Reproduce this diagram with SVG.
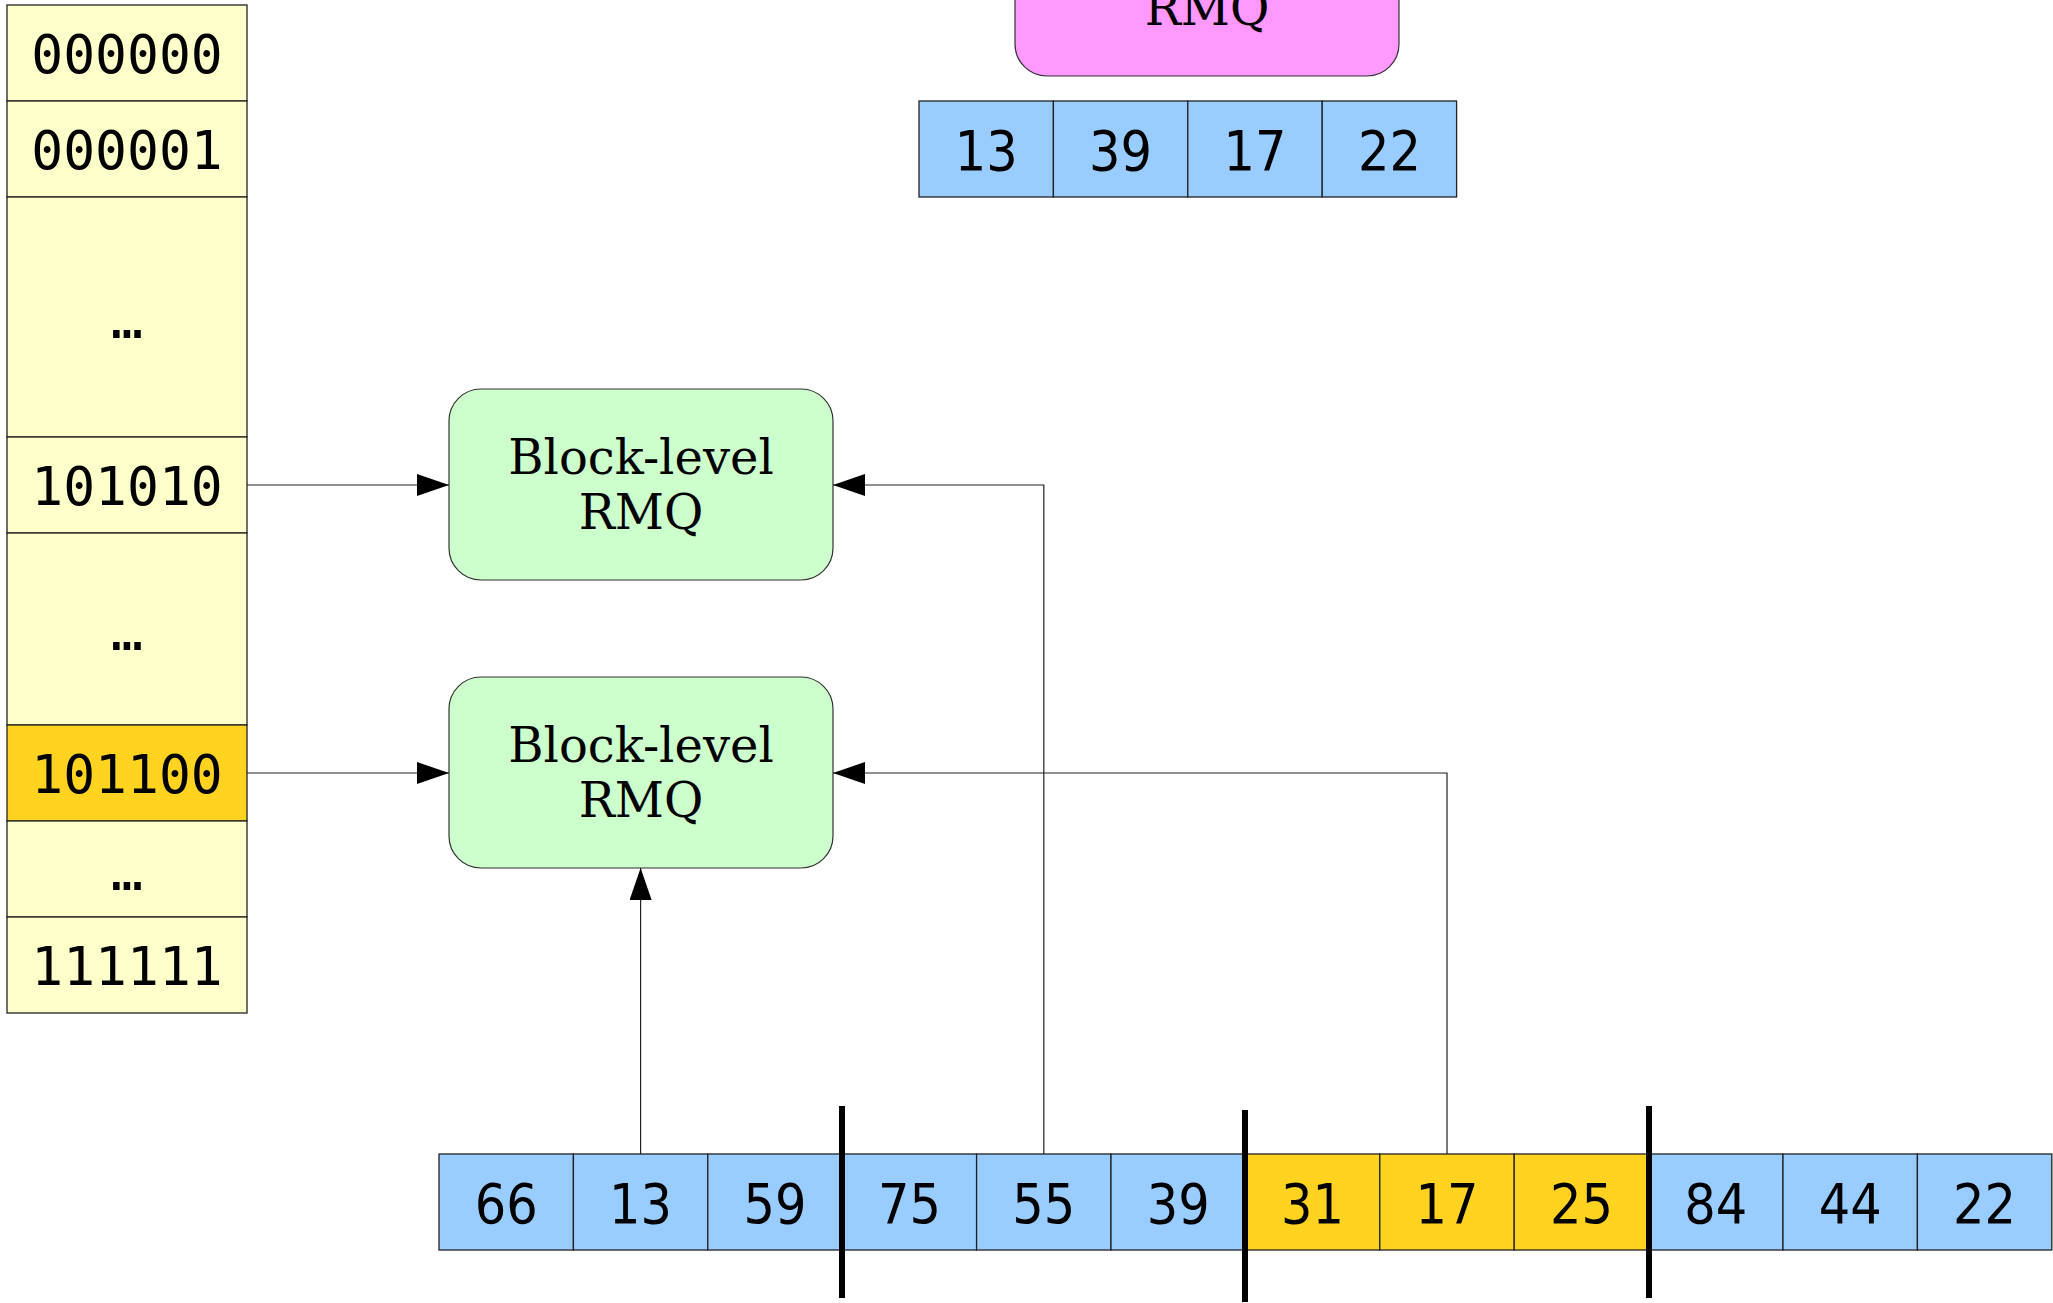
<svg xmlns="http://www.w3.org/2000/svg" width="2053" height="1303" viewBox="0 0 2053 1303">
<defs>
<style>
.cell{stroke:#222;stroke-width:1.3}
.yl{fill:#FFFFCC}
.gd{fill:#FFD320}
.bl{fill:#99CCFF}
.mono{font-family:"DejaVu Sans Mono","Liberation Mono",monospace;font-size:53px;fill:#000;text-anchor:middle}
.num{font-family:"DejaVu Sans Condensed","DejaVu Sans","Liberation Sans",sans-serif;font-stretch:condensed;font-size:55px;fill:#000;text-anchor:middle}
.ser{font-family:"DejaVu Serif","Liberation Serif",serif;font-size:48px;fill:#000;text-anchor:middle}
.box{stroke:#333;stroke-width:1.2}
.conn{fill:none;stroke:#222;stroke-width:1.2}
.bar{fill:#000}
</style>
<marker id="arr" markerUnits="userSpaceOnUse" markerWidth="34" markerHeight="24" refX="32" refY="11" orient="auto">
<path d="M0,0 L32,11 L0,22 z" fill="#000"/>
</marker>
</defs>
<rect width="2053" height="1303" fill="#fff"/>

<g id="table">
<g id="row-000000"><rect class="cell yl" x="7" y="5" width="240" height="96"/><text class="mono" x="127" y="73">000000</text></g>
<g id="row-000001"><rect class="cell yl" x="7" y="101" width="240" height="96"/><text class="mono" x="127" y="169">000001</text></g>
<g id="row-dots1"><rect class="cell yl" x="7" y="197" width="240" height="240"/><text class="mono" x="127" y="338">…</text></g>
<g id="row-101010"><rect class="cell yl" x="7" y="437" width="240" height="96"/><text class="mono" x="127" y="505">101010</text></g>
<g id="row-dots2"><rect class="cell yl" x="7" y="533" width="240" height="192"/><text class="mono" x="127" y="650">…</text></g>
<g id="row-101100"><rect class="cell gd" x="7" y="725" width="240" height="96"/><text class="mono" x="127" y="793">101100</text></g>
<g id="row-dots3"><rect class="cell yl" x="7" y="821" width="240" height="96"/><text class="mono" x="127" y="890">…</text></g>
<g id="row-111111"><rect class="cell yl" x="7" y="917" width="240" height="96"/><text class="mono" x="127" y="985">111111</text></g>
</g>

<g id="summary-rmq">
<rect class="box" x="1015" y="-115" width="384" height="191" rx="32" ry="32" fill="#FF99FF"/>
<text class="ser" x="1207" y="25">RMQ</text>
</g>

<g id="summary-array">
<rect class="cell bl" x="919" y="101" width="134.4" height="96"/><text class="num" x="986.2" y="170">13</text>
<rect class="cell bl" x="1053.4" y="101" width="134.4" height="96"/><text class="num" x="1120.6" y="170">39</text>
<rect class="cell bl" x="1187.8" y="101" width="134.4" height="96"/><text class="num" x="1255" y="170">17</text>
<rect class="cell bl" x="1322.2" y="101" width="134.4" height="96"/><text class="num" x="1389.4" y="170">22</text>
</g>

<g id="block-rmq-1">
<rect class="box" x="449" y="389" width="384" height="191" rx="32" ry="32" fill="#CCFFCC"/>
<text class="ser" x="641" y="474">Block-level</text>
<text class="ser" x="641" y="529">RMQ</text>
</g>

<g id="block-rmq-2">
<rect class="box" x="449" y="677" width="384" height="191" rx="32" ry="32" fill="#CCFFCC"/>
<text class="ser" x="641" y="762">Block-level</text>
<text class="ser" x="641" y="817">RMQ</text>
</g>

<g id="array">
<rect class="cell bl" x="439" y="1154" width="134.4" height="96"/><text class="num" x="506.2" y="1223">66</text>
<rect class="cell bl" x="573.4" y="1154" width="134.4" height="96"/><text class="num" x="640.6" y="1223">13</text>
<rect class="cell bl" x="707.8" y="1154" width="134.4" height="96"/><text class="num" x="775" y="1223">59</text>
<rect class="cell bl" x="842.2" y="1154" width="134.4" height="96"/><text class="num" x="909.4" y="1223">75</text>
<rect class="cell bl" x="976.6" y="1154" width="134.4" height="96"/><text class="num" x="1043.8" y="1223">55</text>
<rect class="cell bl" x="1111" y="1154" width="134.4" height="96"/><text class="num" x="1178.2" y="1223">39</text>
<rect class="cell gd" x="1245.4" y="1154" width="134.4" height="96"/><text class="num" x="1312.6" y="1223">31</text>
<rect class="cell gd" x="1379.8" y="1154" width="134.4" height="96"/><text class="num" x="1447" y="1223">17</text>
<rect class="cell gd" x="1514.2" y="1154" width="134.4" height="96"/><text class="num" x="1581.4" y="1223">25</text>
<rect class="cell bl" x="1648.6" y="1154" width="134.4" height="96"/><text class="num" x="1715.8" y="1223">84</text>
<rect class="cell bl" x="1783" y="1154" width="134.4" height="96"/><text class="num" x="1850.2" y="1223">44</text>
<rect class="cell bl" x="1917.4" y="1154" width="134.4" height="96"/><text class="num" x="1984.6" y="1223">22</text>
</g>

<g id="block-dividers">
<rect class="bar" x="839" y="1106" width="6" height="192"/>
<rect class="bar" x="1242" y="1110" width="6" height="192"/>
<rect class="bar" x="1646" y="1106" width="6" height="192"/>
</g>

<g id="connectors">
<path class="conn" d="M247,485 H449" marker-end="url(#arr)"/>
<path class="conn" d="M247,773 H449" marker-end="url(#arr)"/>
<path class="conn" d="M640.6,1154 V868" marker-end="url(#arr)"/>
<path class="conn" d="M1043.8,1154 V485 H833" marker-end="url(#arr)"/>
<path class="conn" d="M1447,1154 V773 H833" marker-end="url(#arr)"/>
</g>
</svg>
